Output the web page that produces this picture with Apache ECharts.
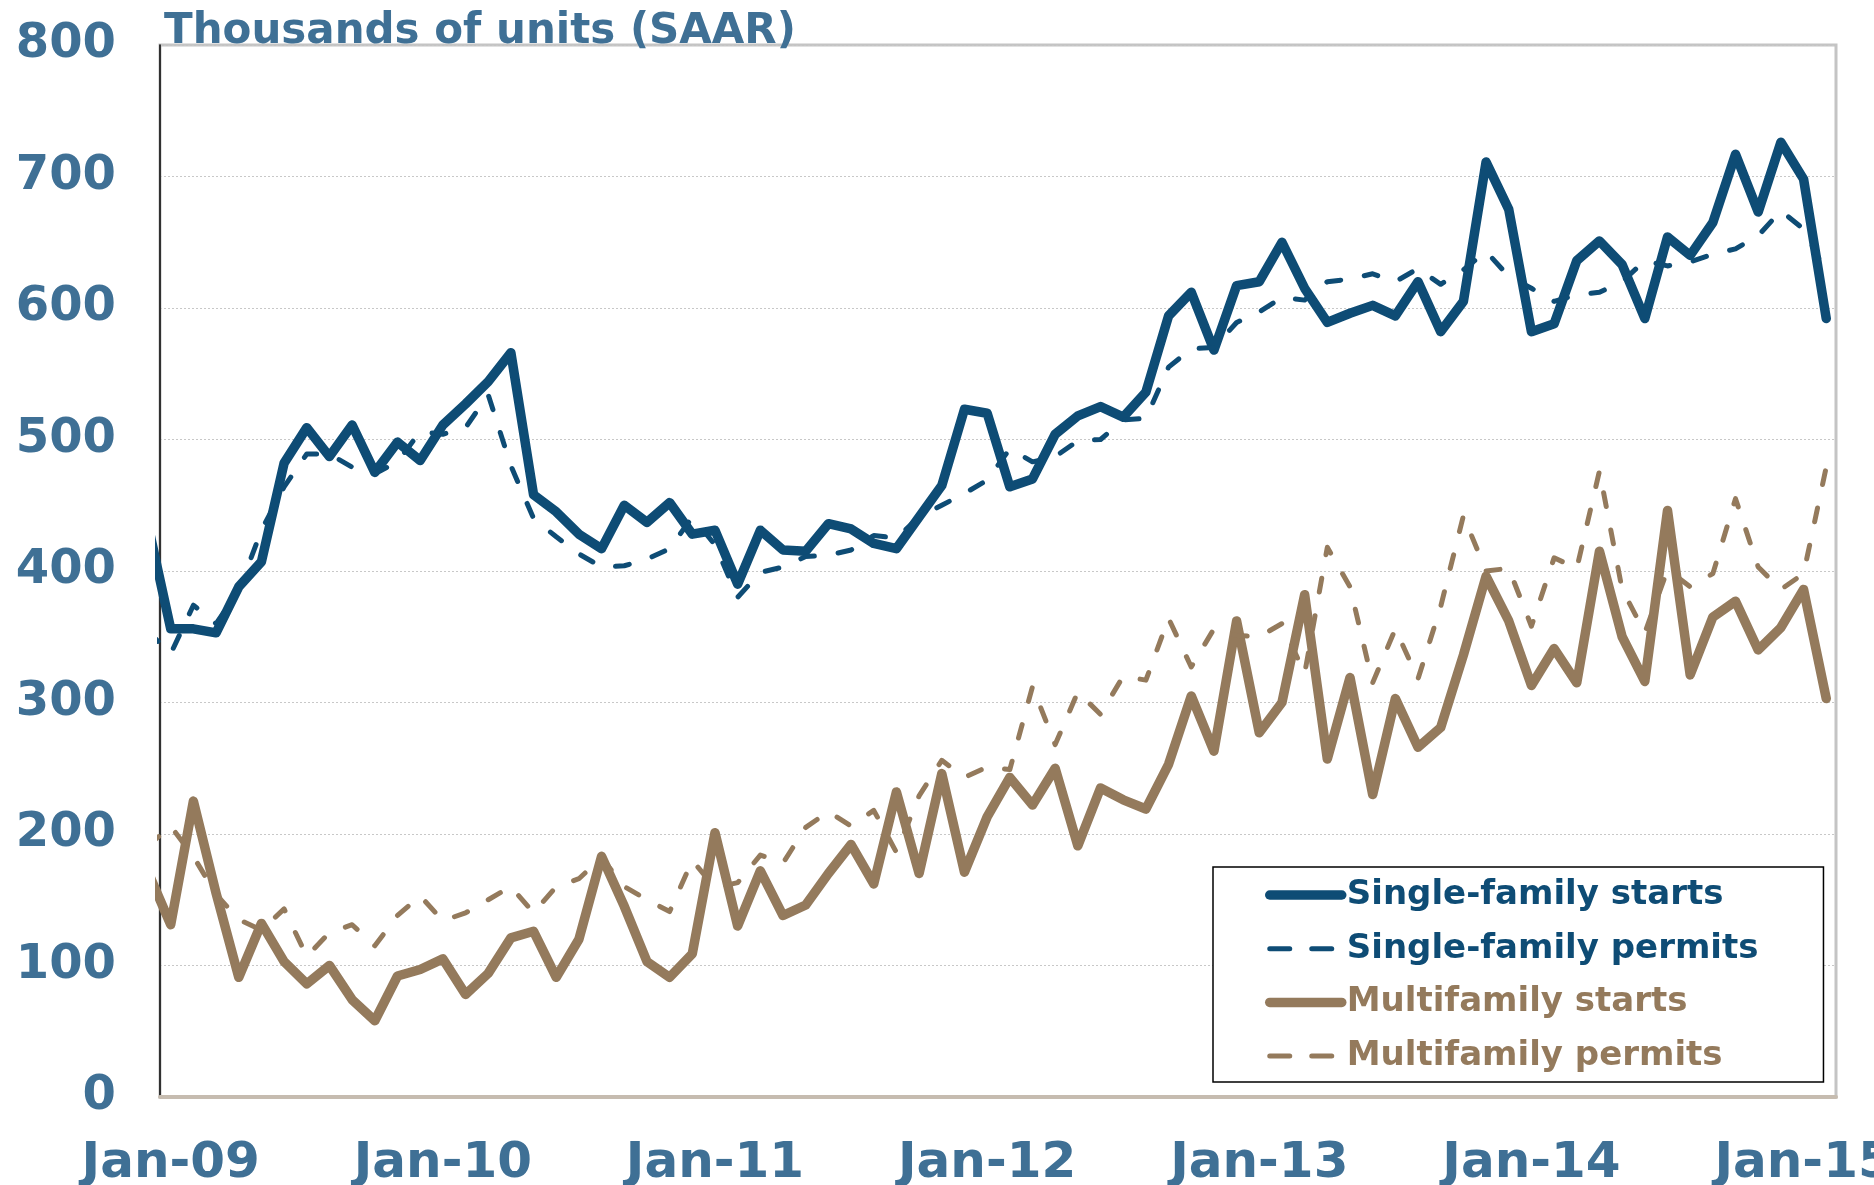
<!DOCTYPE html>
<html>
<head>
<meta charset="utf-8">
<script src="https://cdn.jsdelivr.net/npm/echarts@6/dist/echarts.min.js"></script>
<style>
  html, body { margin: 0; padding: 0; background: #fff; }
  #chart { width: 1874px; height: 1185px; }
</style>
</head>
<body>
<div id="chart"></div>
<script>
// month index: 0 = Jan-09 ... 73 = Feb-15; the first value of each series is Dec-08 (index -1),
// which sits just left of the axis and gets clipped
const firstMonth = -1;
const tickMonths = [0, 12, 24, 36, 48, 60, 72];
const tickLabels = ['Jan-09', 'Jan-10', 'Jan-11', 'Jan-12', 'Jan-13', 'Jan-14', 'Jan-15'];
const seriesNames = ['Single-family starts', 'Single-family permits', 'Multifamily starts', 'Multifamily permits'];

const sfStarts = [435,
  356, 356, 353, 388, 407, 482, 509, 487, 511, 475, 498, 484,
  511, 527, 544, 566, 458, 445, 428, 417, 450, 437, 452, 428,
  431, 390, 431, 416, 415, 436, 432, 421, 417, 441, 465, 523,
  520, 464, 470, 504, 518, 525, 517, 536, 594, 612, 568, 617,
  620, 650, 615, 589, 596, 602, 594, 620, 582, 605, 711, 675,
  582, 588, 636, 651, 633, 592, 654, 640, 665, 717, 673, 726,
  698, 592];
const sfPermits = [354,
  337, 374, 360, 385, 431, 464, 489, 489, 479, 474, 483, 506,
  504, 509, 534, 480, 440, 426, 413, 403, 404, 409, 417, 441,
  420, 380, 399, 403, 411, 412, 416, 427, 425, 441, 450, 459,
  469, 493, 483, 487, 499, 500, 515, 516, 555, 569, 570, 589,
  597, 608, 606, 620, 622, 626, 620, 630, 618, 629, 643, 624,
  615, 605, 610, 612, 620, 636, 632, 635, 641, 645, 655, 674,
  660, 627];
const mfStarts = [171,
  131, 225, 155, 91, 132, 103, 86, 100, 74, 58, 92, 97,
  105, 78, 94, 121, 126, 91, 120, 183, 145, 103, 91, 109,
  201, 130, 172, 138, 146, 170, 192, 162, 232, 170, 246, 171,
  213, 243, 222, 250, 191, 235, 226, 219, 253, 305, 263, 362,
  277, 300, 382, 257, 319, 230, 303, 266, 281, 336, 396, 362,
  313, 341, 315, 415, 350, 316, 446, 321, 365, 377, 340, 357,
  386, 303];
const mfPermits = [191,
  206, 183, 154, 135, 127, 143, 107, 125, 131, 115, 138, 153,
  134, 140, 150, 160, 140, 160, 166, 182, 160, 150, 141, 180,
  159, 163, 184, 178, 205, 217, 206, 218, 186, 229, 256, 243,
  251, 249, 312, 268, 308, 291, 320, 317, 364, 327, 356, 351,
  350, 360, 322, 418, 388, 315, 356, 318, 373, 442, 400, 402,
  358, 410, 402, 476, 386, 353, 401, 388, 398, 455, 403, 386,
  398, 479];

const BLUE = '#0e4c75';
const BROWN = '#947a5c';
const LABEL = '#3f7095';
const FONT = 'DejaVu Sans';
const SOLID_W = 9.5;
const DASH_W = 5;
const DASH = [14, 24];

const toPairs = (arr) => arr.map((v, k) => [firstMonth + k, v]);

function lineSeries(name, values, color, dashed) {
  return {
    name: name,
    type: 'line',
    data: toPairs(values),
    symbol: 'none',
    showSymbol: false,
    clip: true,
    silent: true,
    itemStyle: { color: color },
    lineStyle: {
      color: color,
      width: dashed ? DASH_W : SOLID_W,
      type: dashed ? DASH : 'solid',
      cap: 'round',
      join: 'round'
    }
  };
}

function legendItem(name, color, dashed) {
  return {
    name: name,
    textStyle: { color: color },
    itemStyle: { opacity: 0 },
    lineStyle: {
      color: color,
      width: dashed ? DASH_W : SOLID_W,
      type: dashed ? [20, 22] : 'solid',
      cap: 'round',
      opacity: 1
    }
  };
}

const chart = echarts.init(document.getElementById('chart'), null, { renderer: 'canvas' });

chart.setOption({
  animation: false,
  backgroundColor: '#fff',
  title: {
    text: 'Thousands of units (SAAR)',
    left: 164,
    top: 11,
    padding: 0,
    textStyle: { fontFamily: FONT, fontSize: 42, fontWeight: 'bold', color: LABEL }
  },
  grid: {
    left: 160,
    top: 45,
    right: 38,
    bottom: 88,
    outerBoundsMode: 'none',
    containLabel: false,
    show: true,
    borderColor: '#c4c4c4',
    borderWidth: 3,
    backgroundColor: 'transparent'
  },
  legend: {
    orient: 'vertical',
    left: 1213,
    top: 867,
    padding: [11, 65, 9, 52],
    itemGap: 19.7,
    itemWidth: 72,
    itemHeight: 30,
    backgroundColor: '#fff',
    borderColor: '#000',
    borderWidth: 1.5,
    textStyle: { fontFamily: FONT, fontSize: 34, fontWeight: 'bold', lineHeight: 30 },
    data: [
      legendItem(seriesNames[0], BLUE, false),
      legendItem(seriesNames[1], BLUE, true),
      legendItem(seriesNames[2], BROWN, false),
      legendItem(seriesNames[3], BROWN, true)
    ]
  },
  xAxis: {
    type: 'value',
    min: -0.472,
    max: 73.43,
    splitLine: { show: false },
    axisTick: { show: false },
    axisLine: { show: true, onZero: false, lineStyle: { color: '#c6bcb0', width: 4 } },
    axisLabel: {
      customValues: tickMonths,
      margin: 42,
      fontFamily: FONT,
      fontSize: 50,
      fontWeight: 'bold',
      color: LABEL,
      formatter: (v) => tickLabels[tickMonths.indexOf(Math.round(v))] || ''
    }
  },
  yAxis: {
    type: 'value',
    min: 0,
    max: 800,
    interval: 100,
    axisTick: { show: false },
    axisLine: { show: true, onZero: false, lineStyle: { color: '#000', width: 1.5 } },
    splitLine: { show: true, lineStyle: { color: '#c8c8c8', width: 1, type: [2, 2] } },
    axisLabel: {
      margin: 44,
      fontFamily: FONT,
      fontSize: 48,
      fontWeight: 'bold',
      color: LABEL
    }
  },
  series: [
    lineSeries(seriesNames[0], sfStarts, BLUE, false),
    lineSeries(seriesNames[1], sfPermits, BLUE, true),
    lineSeries(seriesNames[2], mfStarts, BROWN, false),
    lineSeries(seriesNames[3], mfPermits, BROWN, true)
  ]
});
</script>
</body>
</html>
